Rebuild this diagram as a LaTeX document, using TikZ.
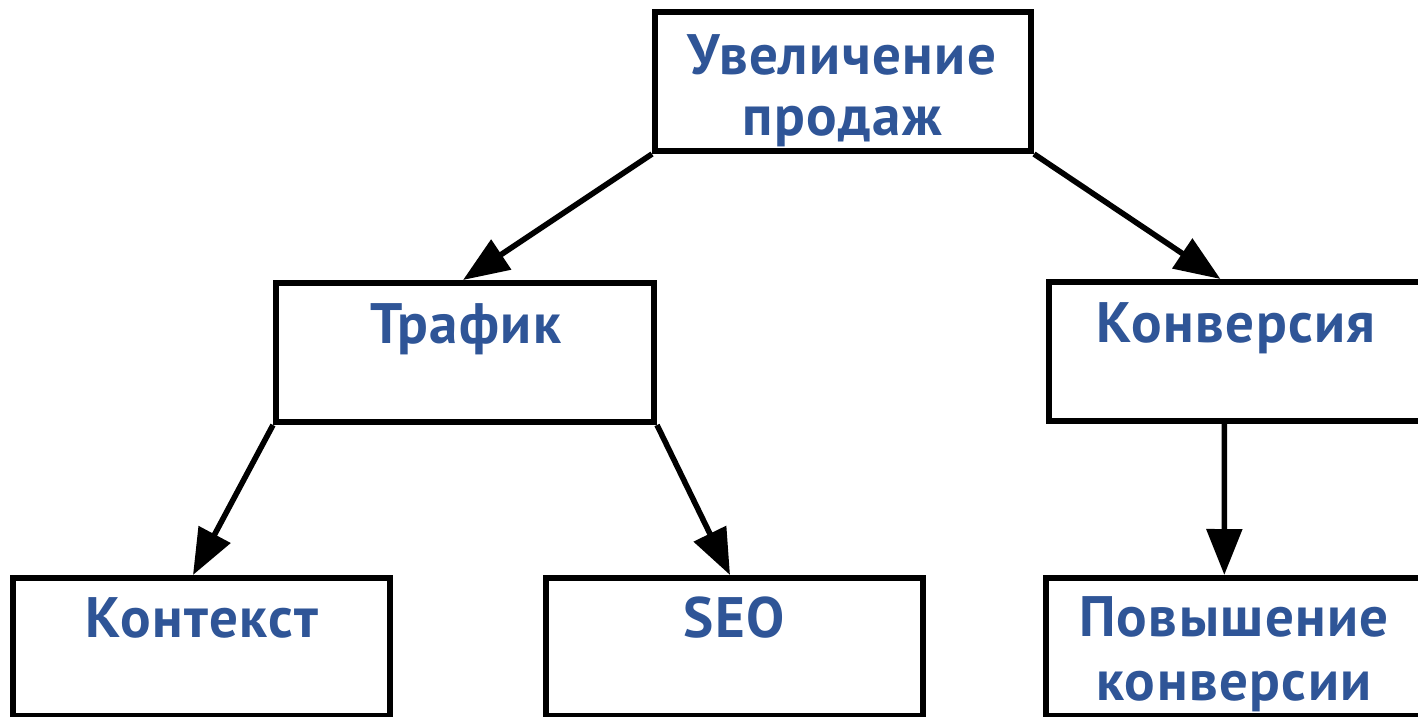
\documentclass[tikz,border=0pt]{standalone}
\usepackage{fontspec}
\setmainfont[LetterSpace=2.5]{PT Sans}
\usetikzlibrary{arrows.meta}
\definecolor{txtblue}{RGB}{47,85,151}
\tikzset{
  box/.style={draw=black, line width=3pt, rectangle, minimum width=#1, minimum height=69.5pt, inner sep=0pt, fill=white},
  box/.default=189pt,
  lbl/.style={anchor=base, text=txtblue, font=\bfseries\fontsize{28.5pt}{30pt}\selectfont, inner sep=0pt},
  arr/.style={draw=black, line width=2.8pt, -{Triangle[length=23pt,width=17.5pt]}}
}
\begin{document}
\begin{tikzpicture}[x=0.5pt,y=-0.5pt]
\useasboundingbox (0,0) rectangle (1418,717);
% boxes
\node[box=188pt] (top) at (843,81.5) {};
\node[box] (traf) at (465,352.5) {};
\node[box=187.8pt] (konv) at (1236.4,351.5) {};
\node[box=188.5pt, minimum height=69pt] (kont) at (201.5,647) {};
\node[box=188.5pt, minimum height=69pt] (seo) at (734,647) {};
\node[box=188.5pt, minimum height=69pt] (pov) at (1234,647) {};
% labels
\node[lbl] (topA) at (842,75) {Увеличение};
\node[lbl] (topB) at (842,135) {продаж};
\node[lbl] (trafT) at (466,343) {Трафик};
\node[lbl] (konvT) at (1236,342) {Конверсия};
\node[lbl] (kontT) at (202,637) {Контекст};
\node[lbl] (seoT) at (734,637) {SEO};
\node[lbl] (povA) at (1234,636) {Повышение};
\node[lbl] (povB) at (1234,700) {конверсии};
% arrows
\draw[arr] (top.south west) -- ([xshift=-1pt]traf.north);
\draw[arr] (top.south east) -- ([xshift=-8pt]konv.north);
\draw[arr] (traf.south west) -- ([xshift=-4.25pt]kont.north);
\draw[arr] (traf.south east) -- ([xshift=-2pt]seo.north);
\draw[arr] ([xshift=-6pt]konv.south) -- ([xshift=-4.85pt]pov.north);
\end{tikzpicture}
\end{document}
